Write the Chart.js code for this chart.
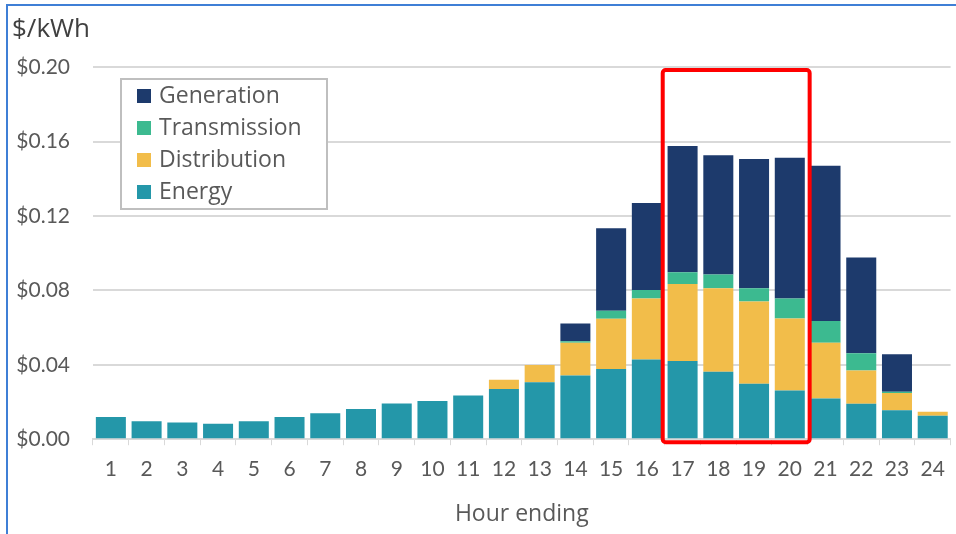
<!DOCTYPE html>
<html>
<head>
<meta charset="utf-8">
<script src="https://cdn.jsdelivr.net/npm/chart.js@4.4.1/dist/chart.umd.min.js"></script>
<style>
    body { margin: 0; background: #fff; }
    #wrap { position: relative; width: 956px; height: 534px; }
    #frame { position: absolute; left: 6px; top: 4px; right: 0; bottom: 0; border-left: 2px solid #3f7fd6; border-top: 2px solid #3f7fd6; pointer-events: none; }
</style>
</head>
<body>
<div id="wrap">
    <canvas id="costChart" width="956" height="534"></canvas>
    <div id="frame"></div>
</div>
<script>
const hours = ["1", "2", "3", "4", "5", "6", "7", "8", "9", "10", "11", "12",
    "13", "14", "15", "16", "17", "18", "19", "20", "21", "22", "23", "24"];

const energy = [0.0120, 0.0097, 0.0090, 0.0083, 0.0097, 0.0120, 0.0140, 0.0163, 0.0192, 0.0205, 0.0235, 0.0270,
    0.0306, 0.0343, 0.0377, 0.0428, 0.0420, 0.0363, 0.0298, 0.0262, 0.0219, 0.0190, 0.0155, 0.0126];
const distribution = [0, 0, 0, 0, 0, 0, 0, 0, 0, 0, 0, 0.0050,
    0.0093, 0.0176, 0.0270, 0.0328, 0.0414, 0.0449, 0.0442, 0.0387, 0.0300, 0.0180, 0.0093, 0.0021];
const transmission = [0, 0, 0, 0, 0, 0, 0, 0, 0, 0, 0, 0,
    0, 0.0008, 0.0043, 0.0046, 0.0064, 0.0074, 0.0072, 0.0107, 0.0117, 0.0092, 0.0007, 0];
const generation = [0, 0, 0, 0, 0, 0, 0, 0, 0, 0, 0, 0,
    0, 0.0095, 0.0444, 0.0468, 0.0678, 0.0641, 0.0694, 0.0757, 0.0834, 0.0515, 0.0202, 0];

// highlighted hours (17 to 20)
const highlightFrom = 16;
const highlightTo = 19;

const tickFont = "Lato, sans-serif";
const textFont = "'Open Sans', sans-serif";
const textColor = "#595959";

// legend drawn in a box inside the plot
const boxLegend = {
    id: "boxLegend",
    afterDraw(chart) {
        const ctx = chart.ctx;
        const x0 = 121, y0 = 79, w = 206, h = 130;
        ctx.save();
        ctx.strokeStyle = "#bfbfbf";
        ctx.lineWidth = 2;
        ctx.fillStyle = "#fff";
        ctx.fillRect(x0, y0, w, h);
        ctx.strokeRect(x0, y0, w, h);
        ctx.font = "23px " + textFont;
        ctx.textBaseline = "middle";
        const order = [3, 2, 1, 0];
        order.forEach((di, i) => {
            const ds = chart.data.datasets[di];
            const cy = y0 + 17 + i * 32;
            ctx.fillStyle = ds.backgroundColor;
            ctx.fillRect(x0 + 16, cy - 7, 14, 14);
            ctx.fillStyle = textColor;
            ctx.fillText(ds.label, x0 + 38, cy);
        });
        ctx.restore();
    }
};

// red box around the peak hours
const peakBox = {
    id: "peakBox",
    afterDatasetsDraw(chart) {
        const xs = chart.scales.x, ys = chart.scales.y;
        const half = (xs.getPixelForValue(1) - xs.getPixelForValue(0)) / 2;
        const left = xs.getPixelForValue(highlightFrom) - half - 2;
        const right = xs.getPixelForValue(highlightTo) + half + 2;
        const top = ys.getPixelForValue(0.1985);
        const bottom = ys.getPixelForValue(0) + 3;
        const ctx = chart.ctx;
        ctx.save();
        ctx.strokeStyle = "#ff0000";
        ctx.lineWidth = 4;
        ctx.lineJoin = "round";
        ctx.beginPath();
        ctx.roundRect(left, top, right - left, bottom - top, 3);
        ctx.stroke();
        ctx.restore();
    }
};

new Chart(document.getElementById("costChart").getContext("2d"), {
    type: "bar",
    data: {
        labels: hours,
        datasets: [
            { label: "Energy", data: energy, backgroundColor: "#2497a9" },
            { label: "Distribution", data: distribution, backgroundColor: "#f2bd4a" },
            { label: "Transmission", data: transmission, backgroundColor: "#3cba90" },
            { label: "Generation", data: generation, backgroundColor: "#1d3a6c" }
        ]
    },
    options: {
        responsive: false,
        animation: false,
        layout: { padding: { left: 12, right: 5, top: 0, bottom: 2 } },
        datasets: { bar: { barPercentage: 0.84, categoryPercentage: 1.0, borderWidth: 0 } },
        plugins: {
            legend: { display: false },
            tooltip: { enabled: false },
            title: {
                display: true,
                text: "$/kWh",
                align: "start",
                color: "#404040",
                font: { family: textFont, size: 26, weight: "normal" },
                padding: { top: 14, bottom: 22 }
            }
        },
        scales: {
            x: {
                stacked: true,
                grid: { display: true, drawOnChartArea: false, drawTicks: true, tickLength: 6, color: "#d9d9d9", offset: true },
                border: { color: "#d9d9d9", width: 2 },
                ticks: { color: textColor, font: { family: tickFont, size: 21 }, padding: 11, maxRotation: 0 },
                title: { display: true, text: "Hour ending", color: textColor, font: { family: textFont, size: 23 }, padding: { top: 8 } }
            },
            y: {
                stacked: true,
                min: 0,
                max: 0.2,
                afterFit(scale) { scale.width = 81; },
                grid: { color: "#d9d9d9", lineWidth: 2, drawTicks: false },
                border: { display: false },
                ticks: {
                    stepSize: 0.04,
                    color: textColor,
                    padding: 23,
                    font: { family: tickFont, size: 21 },
                    callback: v => "$" + v.toFixed(2)
                }
            }
        }
    },
    plugins: [peakBox, boxLegend]
});
</script>
</body>
</html>
